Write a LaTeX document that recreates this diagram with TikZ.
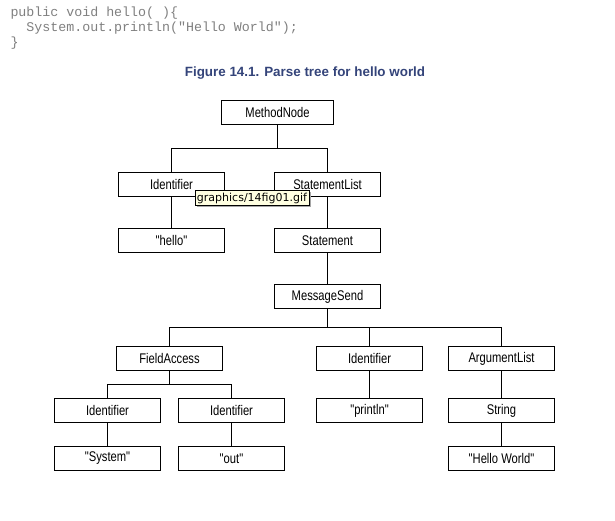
\documentclass[tikz,border=0pt]{standalone}
\usepackage{fontspec}
\setmainfont{Liberation Sans}
\setmonofont{Liberation Mono}
\newfontfamily\boxfont{Liberation Sans}[FakeStretch=0.8]
\newfontfamily\tipfont{DejaVu Sans}
\usetikzlibrary{calc,shadows}
\definecolor{codegray}{RGB}{128,128,128}
\definecolor{titleblue}{RGB}{52,68,122}
\definecolor{tipyellow}{RGB}{255,255,225}
\begin{document}
\begin{tikzpicture}[x=1pt, y=-1pt, line width=1pt,
  box/.style={draw, minimum width=106pt, minimum height=24pt, inner sep=0pt, font=\boxfont\fontsize{14}{16}\selectfont},
  fork/.style={to path={(\tikztostart.south) |- ($(\tikztostart.south)!.5!(\tikztotarget.north)$) -| (\tikztotarget.north)}},
  code/.style={anchor=base west, inner sep=0pt, text=codegray, font=\ttfamily\fontsize{13.3}{15}\selectfont}]
\fill[white] (0,0) rectangle (615,521);
\useasboundingbox (0,0) rectangle (615,521);
\node[code] (c1) at (10,17) {public void hello( )\{};
\node[code] (c2) at (10,32) {\phantom{xx}System.out.println("Hello World");};
\node[code] (c3) at (10,47) {\}};
\node[text=titleblue, font=\bfseries\fontsize{13.4}{16}\selectfont] (title) at (305,73) {Figure 14.1. Parse tree for hello world};
\node[box, minimum width=112pt] (mnode) at (277.5,112.5) {MethodNode};
\node[box] (ident) at (171.5,184.5) {Identifier};
\node[box] (stlist) at (327.5,184.5) {StatementList};
\node[box] (hello) at (171.5,240.5) {"hello"};
\node[box] (stmt) at (327.5,240.5) {Statement};
\node[box] (msend) at (327.5,296.5) {MessageSend};
\node[box] (facc) at (169.5,358.5) {FieldAccess};
\node[box] (idprn) at (369.5,358.5) {Identifier};
\node[box] (arglist) at (501.5,358.5) {ArgumentList};
\node[box] (idsys) at (107.5,410.5) {Identifier};
\node[box] (idout) at (231.5,410.5) {Identifier};
\node[box] (prn) at (369.5,410.5) {"println"};
\node[box] (strng) at (501.5,410.5) {String};
\node[box] (sys) at (107.5,458.5) {"System"};
\node[box] (out) at (231.5,458.5) {"out"};
\node[box] (hw) at (501.5,458.5) {"Hello World"};
\draw (mnode) to[fork] (ident) (mnode) to[fork] (stlist)
  (ident) to[fork] (hello) (stlist) to[fork] (stmt) (stmt) to[fork] (msend)
  (msend) to[fork] (facc) (msend) to[fork] (idprn) (msend) to[fork] (arglist)
  (facc) to[fork] (idsys) (facc) to[fork] (idout)
  (idsys) to[fork] (sys) (idout) to[fork] (out)
  (idprn) to[fork] (prn) (arglist) to[fork] (strng) (strng) to[fork] (hw);
\node[draw, fill=tipyellow, line width=0.8pt, inner sep=0pt, minimum width=114pt, minimum height=15pt,
  font=\tipfont\fontsize{11}{13}\selectfont,
  drop shadow={shadow xshift=2pt, shadow yshift=-2pt, fill=black!35, opacity=1}] (tip) at (252,198) {graphics/14fig01.gif};
\end{tikzpicture}
\end{document}
